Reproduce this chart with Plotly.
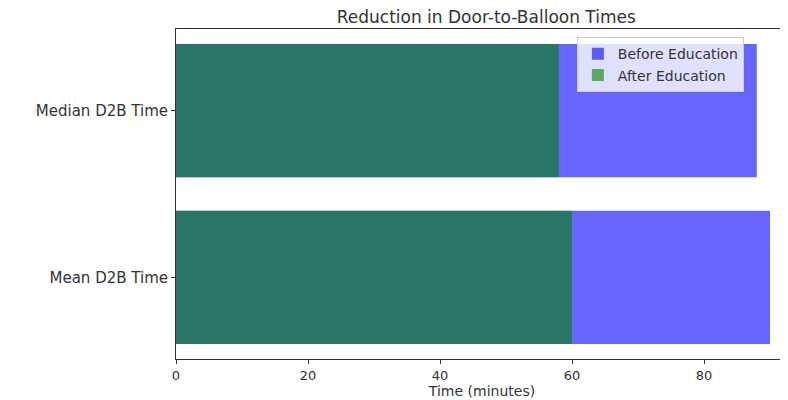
import plotly.graph_objects as go

categories = ["Mean D2B Time", "Median D2B Time"]
before_values = [90, 88]
after_values = [60, 58]
x_ticks = [0, 20, 40, 60, 80]

fig = go.Figure()
fig.add_trace(go.Bar(
    y=categories, x=before_values, orientation="h", name="Before Education",
    marker=dict(color="rgba(0,0,255,0.6)", line=dict(width=0)), width=0.8,
))
fig.add_trace(go.Bar(
    y=categories, x=after_values, orientation="h", name="After Education",
    marker=dict(color="rgba(0,128,0,0.6)", line=dict(width=0)), width=0.8,
))

# page body has an 8px margin, so the figure is offset by 8px
W, H = 780, 392
font = "DejaVu Sans, sans-serif"
fig.update_layout(
    width=W, height=H,
    barmode="overlay",
    plot_bgcolor="white", paper_bgcolor="white",
    margin=dict(l=168, r=0, t=21, b=41),
    font=dict(family=font, size=15, color="#333"),
    title=dict(text="Reduction in Door-to-Balloon Times", x=0.507, xref="paper",
               y=1 - 9 / H, yref="container", yanchor="middle", xanchor="center",
               font=dict(size=17, color="#333")),
    legend=dict(x=0.655, y=0.975, xanchor="left", yanchor="top",
                bgcolor="rgba(255,255,255,0.8)", bordercolor="#cccccc", borderwidth=1,
                font=dict(size=14), traceorder="normal", tracegroupgap=0),
    showlegend=True,
)
fig.update_xaxes(
    range=[0, (W - 168) / 6.6], tickvals=x_ticks, ticks="outside", ticklen=4,
    tickcolor="#333", showline=True, linecolor="#333", linewidth=1, mirror=True,
    showgrid=False, zeroline=False, tickfont=dict(size=13),
    title=dict(text="Time (minutes)", standoff=0, font=dict(size=14)),
)
fig.update_yaxes(
    range=[-0.49, 1.49], ticks="outside", ticklen=4, tickcolor="#333",
    showline=True, linecolor="#333", linewidth=1, mirror=False,
    showgrid=False, zeroline=False, tickfont=dict(size=15),
)
fig.write_html("out.html")
